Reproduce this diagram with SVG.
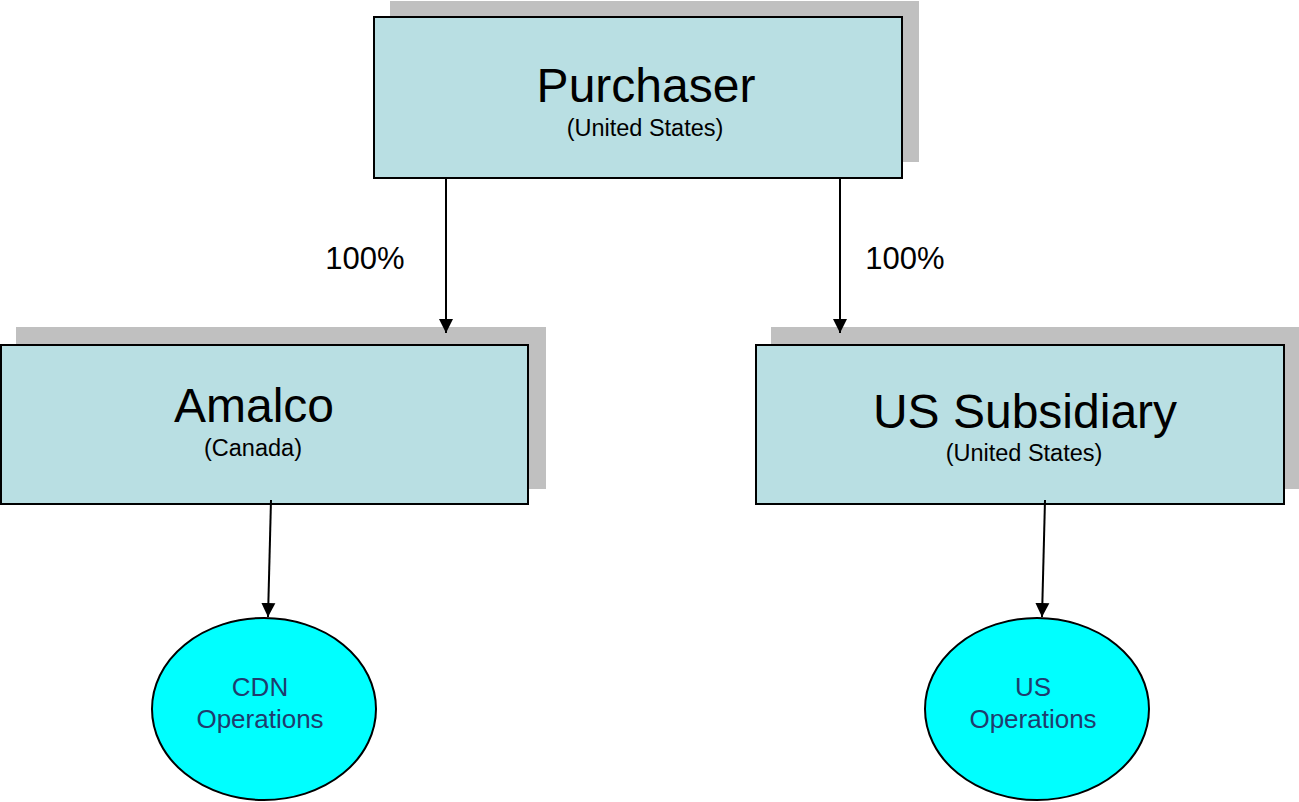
<svg xmlns="http://www.w3.org/2000/svg" width="1299" height="802" viewBox="0 0 1299 802">
<defs>
<style>
.shadow{fill:#C0C0C0;stroke:none}
.box{fill:#B9DFE3;stroke:#000;stroke-width:2}
.oval{fill:#00FFFF;stroke:#000;stroke-width:2}
.t{font-family:"Liberation Sans",Arial,sans-serif;fill:#000;text-anchor:middle}
.big{font-size:48px}
.small{font-size:23.5px}
.pct{font-size:31px;text-anchor:middle;font-family:"Liberation Sans",Arial,sans-serif}
.ops{font-family:"Liberation Sans",Arial,sans-serif;font-size:26px;fill:#1F3C6E;text-anchor:middle}
.conn{stroke:#000;stroke-width:2;fill:none;marker-end:url(#arr)}
</style>
<marker id="arr" viewBox="0 0 10 10" refX="10" refY="5" markerWidth="7" markerHeight="8" markerUnits="strokeWidth" orient="auto">
<path d="M0,0 L10,5 L0,10 z" fill="#000"/>
</marker>
</defs>
<rect width="1299" height="802" fill="#fff"/>
<g id="purchaser">
<rect class="shadow" x="390" y="1" width="529" height="161"/>
<rect class="box" x="374" y="17" width="528" height="161"/>
<text class="t big" x="646" y="102">Purchaser</text>
<text class="t small" x="645" y="136">(United States)</text>
</g>
<g id="amalco">
<rect class="shadow" x="16" y="327" width="530" height="162"/>
<rect class="box" x="1" y="345" width="527" height="159"/>
<text class="t big" x="254" y="422">Amalco</text>
<text class="t small" x="253" y="456">(Canada)</text>
</g>
<g id="ussub">
<rect class="shadow" x="771" y="327" width="528" height="162"/>
<rect class="box" x="756" y="345" width="528" height="159"/>
<text class="t big" x="1025" y="428">US Subsidiary</text>
<text class="t small" x="1024" y="461">(United States)</text>
</g>
<g id="cdnops">
<ellipse class="oval" cx="264" cy="709" rx="112" ry="91"/>
<text class="ops" x="260" y="696">CDN</text>
<text class="ops" x="260" y="728">Operations</text>
</g>
<g id="usops">
<ellipse class="oval" cx="1037" cy="709" rx="112" ry="91"/>
<text class="ops" x="1033" y="696">US</text>
<text class="ops" x="1033" y="728">Operations</text>
</g>
<g id="connectors">
<line class="conn" x1="446" y1="178" x2="446" y2="333"/>
<line class="conn" x1="840" y1="178" x2="840" y2="333"/>
<line class="conn" x1="271" y1="500" x2="268" y2="617"/>
<line class="conn" x1="1045" y1="500" x2="1042" y2="617"/>
<text class="pct" x="365" y="269">100%</text>
<text class="pct" x="905" y="269">100%</text>
</g>
</svg>
